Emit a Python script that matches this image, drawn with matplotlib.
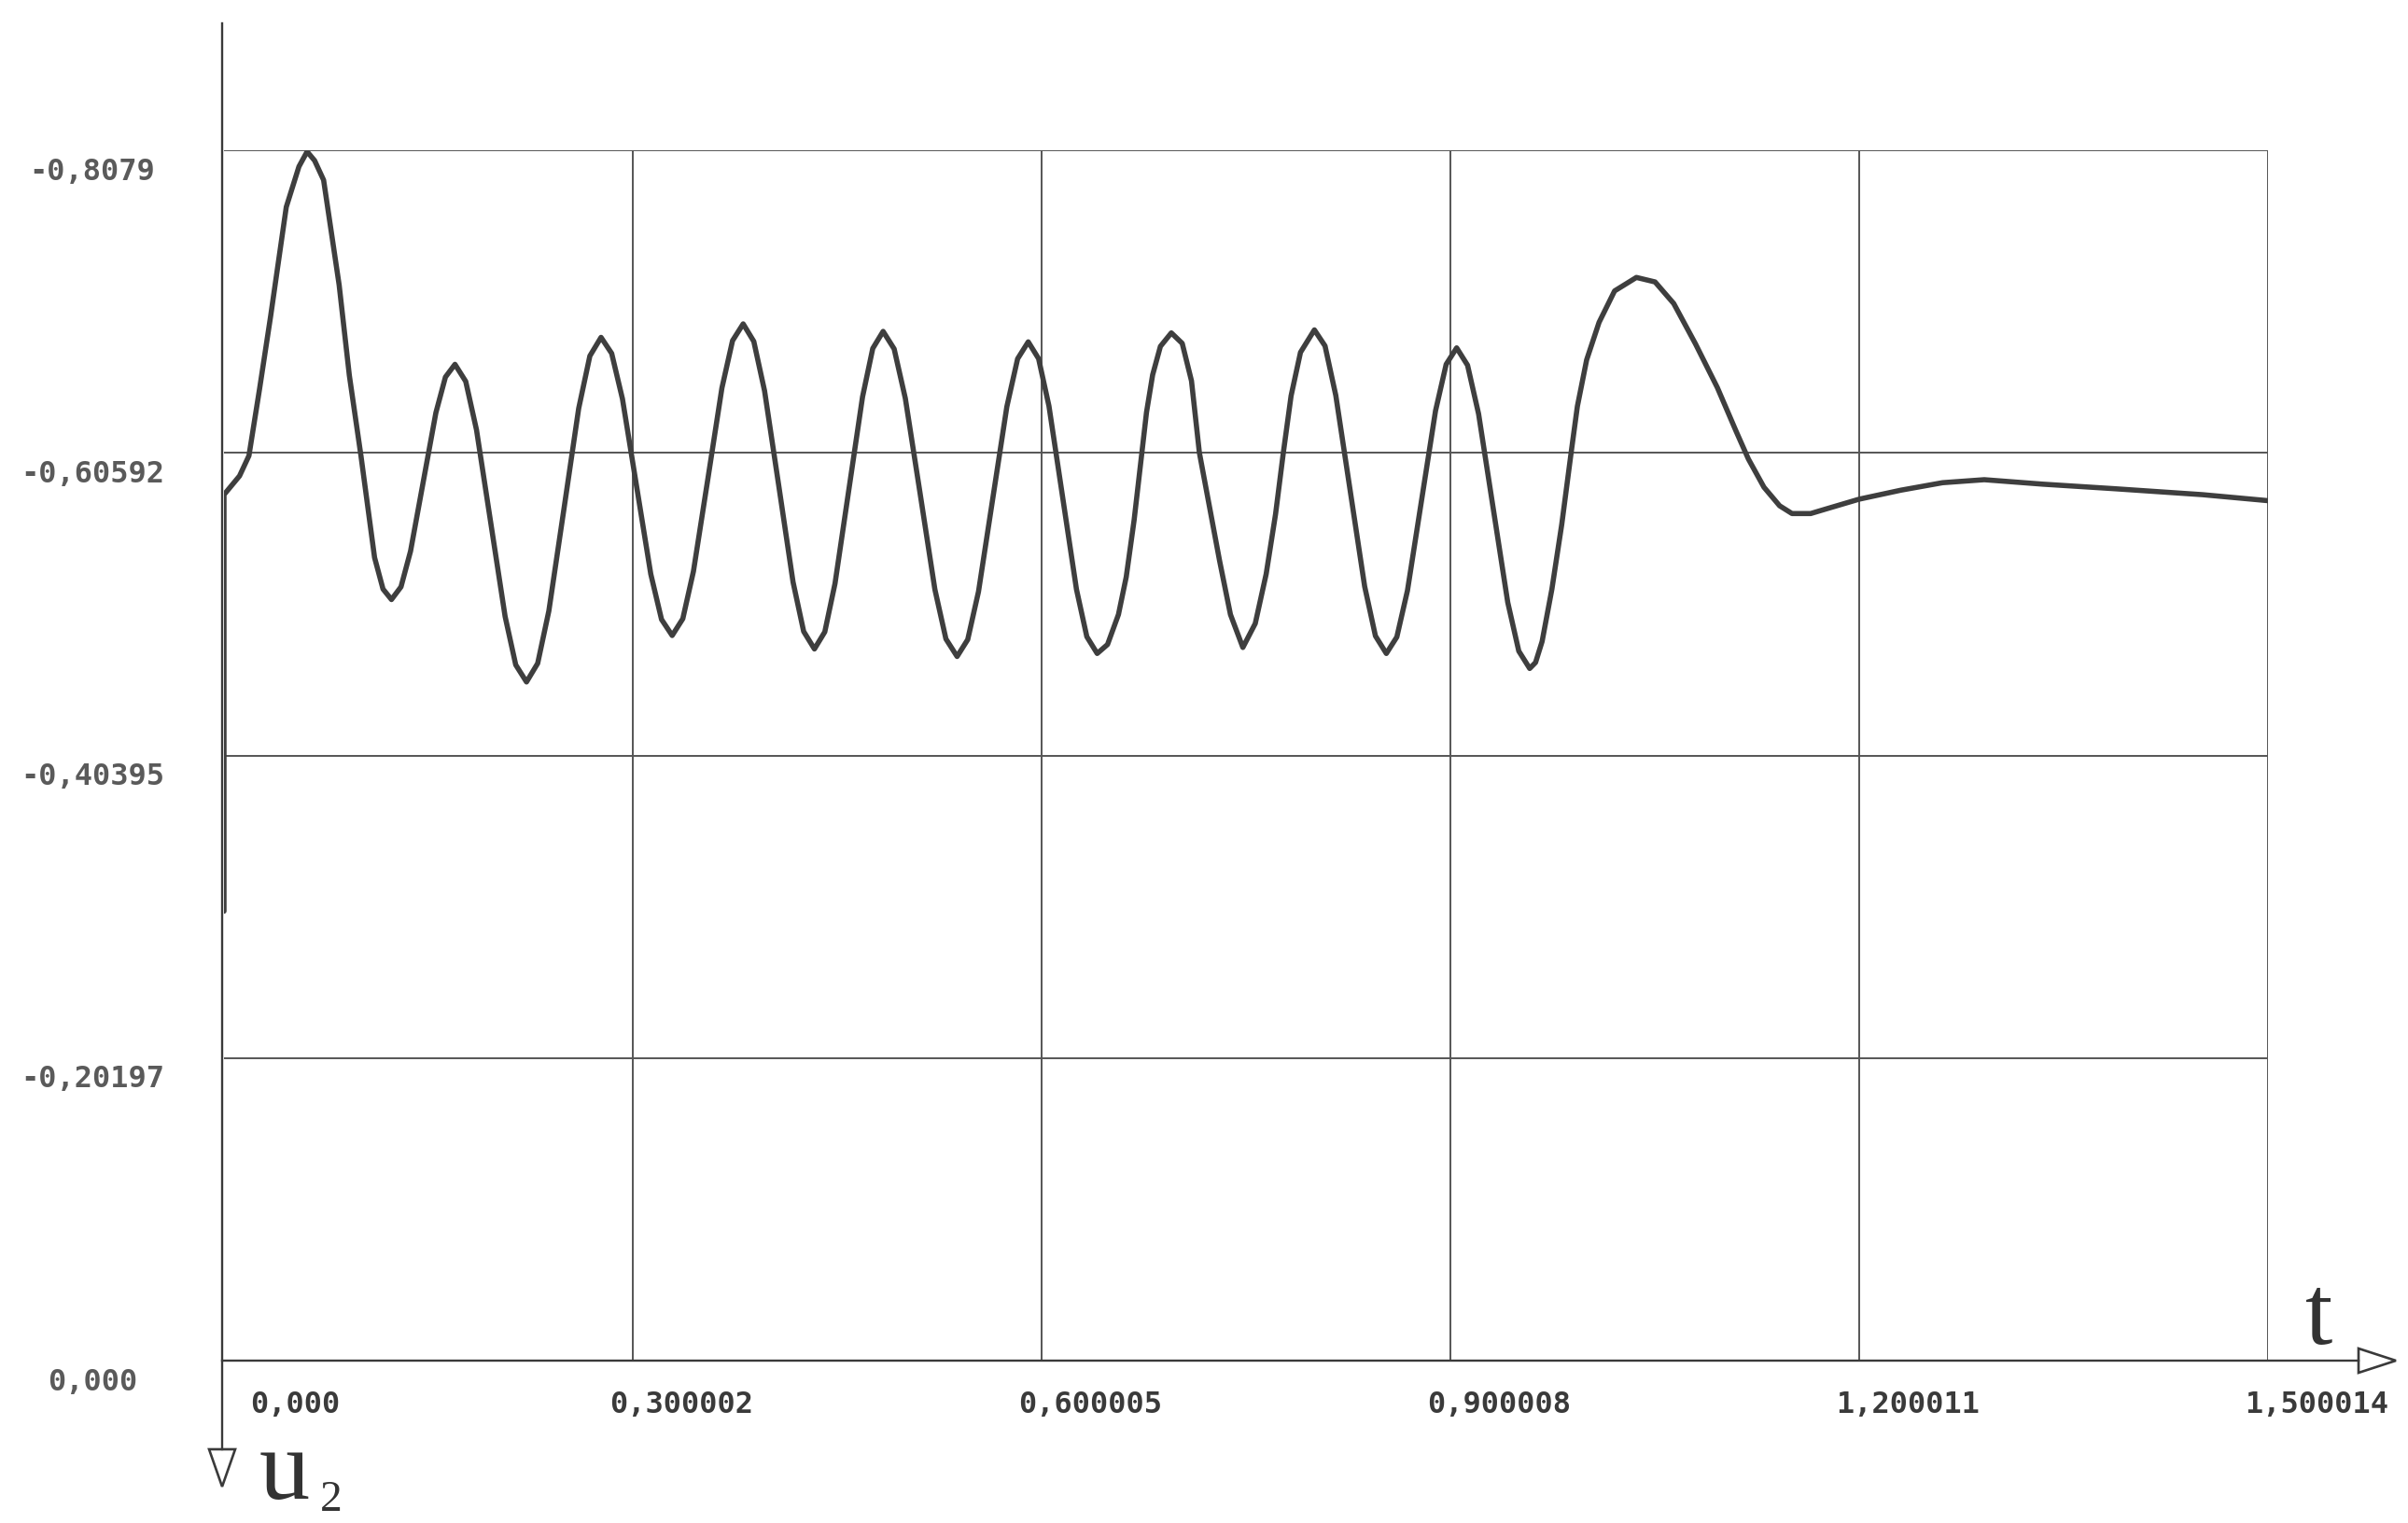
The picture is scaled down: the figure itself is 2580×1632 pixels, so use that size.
import matplotlib
matplotlib.use("Agg")
import matplotlib.pyplot as plt
from matplotlib.lines import Line2D
from matplotlib.patches import Polygon
from matplotlib.transforms import offset_copy

# tick values and their printed labels
x_ticks = [0.0, 0.300002, 0.600005, 0.900008, 1.200011, 1.500014]
x_labels = ["0,000", "0,300002", "0,600005", "0,900008", "1,200011", "1,500014"]
y_ticks = [0.0, -0.20197, -0.40395, -0.60592, -0.8079]
y_labels = ["0,000", "-0,20197", "-0,40395", "-0,60592", "-0,8079"]

# u2(t), one row per half swing
t = [0, 0, 0.0114, 0.0183, 0.026, 0.0342, 0.0457, 0.055, 0.061,
     0.0665, 0.0731, 0.0845, 0.092, 0.1005, 0.1105, 0.1167, 0.1229,
     0.1299, 0.1369, 0.1462, 0.1555, 0.1625, 0.1695,
     0.1774, 0.1853, 0.1958, 0.2063, 0.2141, 0.222,
     0.2302, 0.2384, 0.2494, 0.2603, 0.2685, 0.2767,
     0.2845, 0.2924, 0.3028, 0.3132, 0.3211, 0.3289,
     0.3367, 0.3445, 0.355, 0.3654, 0.3732, 0.381,
     0.3888, 0.3967, 0.4072, 0.4176, 0.4254, 0.4333,
     0.4409, 0.4484, 0.4585, 0.4686, 0.4761, 0.4837,
     0.4918, 0.5, 0.5109, 0.5217, 0.5298, 0.538,
     0.5458, 0.5537, 0.5641, 0.5745, 0.5824, 0.5902,
     0.5978, 0.6054, 0.6155, 0.6256, 0.6332, 0.6408,
     0.6484, 0.6564, 0.6621, 0.6679, 0.6736, 0.677, 0.6815, 0.6872, 0.6952,
     0.7032, 0.71, 0.7158, 0.7226, 0.7306, 0.7386, 0.7477,
     0.7568, 0.7648, 0.7717, 0.7774, 0.7831, 0.79, 0.8002,
     0.808, 0.8159, 0.8265, 0.8371, 0.845, 0.853,
     0.8607, 0.8685, 0.8788, 0.8891, 0.8969, 0.9046,
     0.9126, 0.9207, 0.9314, 0.9421, 0.9502, 0.9582,
     0.9625, 0.9673, 0.9745, 0.9817, 0.9886, 0.9932, 1.0, 1.0091, 1.0205, 1.0365,
     1.0502, 1.0639, 1.0799, 1.0959, 1.1096, 1.1187, 1.1301, 1.1416, 1.1507, 1.1644, 1.1758, 1.2,
     1.2306, 1.2612, 1.2918, 1.335, 1.387, 1.452, 1.5]
u2 = [-0.30, -0.578, -0.5905, -0.604, -0.648, -0.697, -0.770, -0.797, -0.807,
      -0.801, -0.788, -0.718, -0.6575, -0.604, -0.536, -0.515, -0.508,
      -0.5165, -0.5403, -0.5865, -0.6327, -0.6565, -0.665,
      -0.6536, -0.6213, -0.559, -0.4967, -0.4644, -0.453,
      -0.4654, -0.5004, -0.568, -0.6356, -0.6706, -0.683,
      -0.6723, -0.642, -0.5835, -0.525, -0.4947, -0.484,
      -0.4952, -0.5268, -0.588, -0.6492, -0.6808, -0.692,
      -0.6803, -0.6473, -0.5835, -0.5197, -0.4867, -0.475,
      -0.4864, -0.5187, -0.581, -0.6433, -0.6756, -0.687,
      -0.6753, -0.6423, -0.5785, -0.5147, -0.4817, -0.470,
      -0.4813, -0.5133, -0.575, -0.6367, -0.6687, -0.680,
      -0.6688, -0.6372, -0.576, -0.5148, -0.4832, -0.472,
      -0.478, -0.498, -0.523, -0.561, -0.606, -0.633, -0.658, -0.677, -0.686,
      -0.679, -0.654, -0.606, -0.573, -0.534, -0.498, -0.476,
      -0.492, -0.525, -0.565, -0.606, -0.644, -0.673, -0.688,
      -0.6773, -0.6443, -0.5805, -0.5167, -0.4837, -0.472,
      -0.483, -0.514, -0.574, -0.634, -0.665, -0.676,
      -0.6644, -0.6319, -0.569, -0.5061, -0.4736, -0.462,
      -0.466, -0.480, -0.515, -0.558, -0.606, -0.637, -0.668, -0.693, -0.714, -0.723,
      -0.720, -0.7056, -0.6786, -0.6495, -0.6205, -0.6018, -0.583, -0.5706, -0.5654, -0.5654, -0.5685, -0.575,
      -0.581, -0.586, -0.588, -0.585, -0.582, -0.578, -0.574]
assert len(t) == len(u2)

W, H = 2580, 1632
GRID = "#555555"
AXIS = "#3a3a3a"


def fx(px):
    return px / W


def fy(py):
    return 1 - py / H


fig = plt.figure(figsize=(W / 100, H / 100), dpi=100)
fig.patch.set_facecolor("white")
ax = fig.add_axes([fx(240), fy(1458), 2190 / W, 1297 / H])
ax.set_xlim(x_ticks[0], x_ticks[-1])
ax.set_ylim(0, -0.8079)  # u2 axis points down
ax.axis("off")

for x in x_ticks[1:]:
    ax.axvline(x, color=GRID, lw=1.4, zorder=1)
for y in y_ticks[1:]:
    ax.axhline(y, color=GRID, lw=1.4, zorder=1)

ax.plot(t, u2, color="#3e3e3e", lw=4.0, solid_joinstyle="round",
        solid_capstyle="round", zorder=3)

# axes with open arrow heads
fig.add_artist(Line2D([fx(238), fx(238)], [fy(25), fy(1553)], color=AXIS, lw=1.7))
fig.add_artist(Line2D([fx(238), fx(2527)], [fy(1458), fy(1458)], color=AXIS, lw=1.7))
fig.add_artist(Polygon([[fx(2527), fy(1445)], [fx(2567), fy(1458)], [fx(2527), fy(1471)]],
                       closed=True, facecolor="white", edgecolor=AXIS, lw=1.9))
fig.add_artist(Polygon([[fx(224), fy(1553)], [fx(252), fy(1553)], [fx(238), fy(1593)]],
                       closed=True, facecolor="white", edgecolor=AXIS, lw=1.9))

lab_font = dict(family="DejaVu Sans Mono", weight="bold", fontsize=23)

for y, lab in zip(y_ticks, y_labels):
    tr = offset_copy(ax.get_yaxis_transform(), fig=fig, x=-141, y=-23, units="dots")
    ax.text(0, y, lab, transform=tr, ha="center", va="center", color="#5a5a5a", **lab_font)

for i, (x, lab) in enumerate(zip(x_ticks, x_labels)):
    dx = 28 if i == 0 else -25
    tr = offset_copy(ax.get_xaxis_transform(), fig=fig, x=dx, y=-48, units="dots")
    ax.text(x, 0, lab, transform=tr, ha="left", va="center", color="#3a3a3a", **lab_font)

serif = ["Liberation Serif", "DejaVu Serif"]
fig.text(fx(2470), fy(1440), "t", family=serif, fontsize=76, color="#333333",
         ha="left", va="baseline")
fig.text(fx(278), fy(1606), "u", family=serif, fontsize=78, color="#333333",
         ha="left", va="baseline")
fig.text(fx(343), fy(1619), "2", family=serif, fontsize=34, color="#333333",
         ha="left", va="baseline")

fig.savefig("out.png", dpi=100, facecolor="white")
